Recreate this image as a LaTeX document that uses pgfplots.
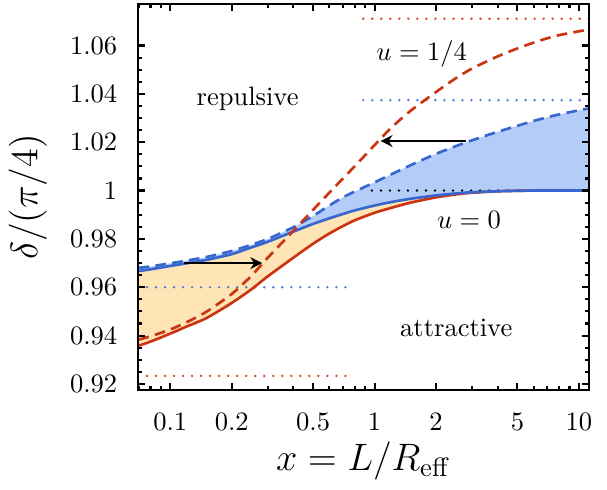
\documentclass[border=0pt]{standalone}
\usepackage{pgfplots}
\pgfplotsset{compat=1.18}
\usepackage{pgfplotstable}
\usepgfplotslibrary{fillbetween}
\usetikzlibrary{arrows.meta}

\definecolor{cblue}{RGB}{56,102,208}
\definecolor{cred}{RGB}{204,51,17}
\definecolor{fblue}{RGB}{179,204,248}
\definecolor{forange}{RGB}{255,228,181}
\definecolor{dblue}{RGB}{74,122,224}
\definecolor{dred}{RGB}{217,68,26}

\pgfplotstableread{
x     bs     bd     rs     rd
0.07  0.9667 0.9680 0.9358 0.9383
0.08  0.9674 0.9686 0.9375 0.9397
0.10  0.9688 0.9699 0.9408 0.9425
0.12  0.9699 0.9710 0.9437 0.9455
0.15  0.9713 0.9725 0.9472 0.9498
0.20  0.9737 0.9750 0.9535 0.9572
0.25  0.9765 0.9776 0.9592 0.9648
0.30  0.9788 0.9800 0.9645 0.9722
0.40  0.9830 0.9848 0.9722 0.9833
0.50  0.9862 0.9895 0.9780 0.9920
0.60  0.9885 0.9938 0.9822 0.9991
0.70  0.9903 0.9972 0.9853 1.0050
0.80  0.9918 0.9996 0.9877 1.0101
1.00  0.9938 1.0034 0.9908 1.0188
1.20  0.9952 1.0066 0.9928 1.0258
1.50  0.9966 1.0105 0.9950 1.0330
2.00  0.9980 1.0152 0.9972 1.0408
2.50  0.9988 1.0184 0.9984 1.0465
3.00  0.9993 1.0208 0.9991 1.0505
4.00  0.9997 1.0243 0.9997 1.0555
5.00  0.9999 1.0268 0.9999 1.0588
6.00  1.0000 1.0288 1.0000 1.0612
7.00  1.0000 1.0303 1.0000 1.0630
8.00  1.0000 1.0315 1.0000 1.0643
10.0  1.0000 1.0332 1.0000 1.0659
11.2  1.0000 1.0340 1.0000 1.0666
}\data

\begin{document}
\begin{tikzpicture}
\begin{axis}[
  name=ax,
  width=170pt, height=145.5pt, scale only axis,
  xmode=log, xmin=0.0695, xmax=11.2, ymin=0.9175, ymax=1.0772,
  xtick={0.1,0.2,0.5,1,2,5,10}, xticklabels={0.1,0.2,0.5,1,2,5,10},
  minor xtick={0.07,0.08,0.09,0.3,0.4,0.6,0.7,0.8,0.9,3,4,6,7,8,9},
  ytick={0.92,0.94,0.96,0.98,1,1.02,1.04,1.06},
  yticklabels={0.92,0.94,0.96,0.98,1,1.02,1.04,1.06},
  minor y tick num=3,
  tick align=inside, tick pos=both,
  major tick length=2.6pt, minor tick length=1.5pt,
  axis line style={line width=1pt},
  every tick/.style={black, line width=0.8pt},
  yticklabel style={xshift=-4.3pt},
  xticklabel style={yshift=-5pt},
  axis on top,
  xlabel={$x = L/R_{\mathrm{eff}}$},
  ylabel={$\delta/(\pi/4)$},
  label style={font=\Large},
  xlabel style={at={(axis description cs:0.5,-0.185)}, anchor=center},
  ylabel style={at={(axis description cs:-0.244,0.5)}, anchor=center, rotate=0},
  dotstyle/.style={line width=1pt, line cap=round, dash pattern=on 0pt off 3.4pt},
  dashstyle/.style={line width=1pt, dash pattern=on 4pt off 2.4pt},
]
% invisible paths for fills
\addplot[draw=none, name path=bs, smooth, tension=0.4] table[x=x,y=bs]{\data};
\addplot[draw=none, name path=bd, smooth, tension=0.4] table[x=x,y=bd]{\data};
\addplot[draw=none, name path=rs, smooth, tension=0.4] table[x=x,y=rs]{\data};
\addplot[forange, draw=none] fill between[of=bs and rs];
\addplot[fblue, draw=none] fill between[of=bd and bs];

% dotted reference lines
\addplot[dred, dotstyle] coordinates {(0.88,1.0711) (11.2,1.0711)};
\addplot[dblue, dotstyle] coordinates {(0.88,1.0374) (11.2,1.0374)};
\addplot[black, dotstyle] coordinates {(0.97,1.0) (11.2,1.0)};
\addplot[dblue, dotstyle] coordinates {(0.0695,0.96) (0.745,0.96)};
\addplot[dred, dotstyle] coordinates {(0.0695,0.9233) (0.745,0.9233)};

% curves
\addplot[cred, line width=1pt, smooth, tension=0.4] table[x=x,y=rs]{\data};
\addplot[cblue, line width=1pt, smooth, tension=0.4] table[x=x,y=bs]{\data};
\addplot[cblue, dashstyle, smooth, tension=0.4] table[x=x,y=bd]{\data};
\addplot[cred, dashstyle, smooth, tension=0.4] table[x=x,y=rd]{\data};

% arrows
\addplot[black, line width=0.8pt, -{Stealth[length=4.5pt,width=4.5pt]}] coordinates {(2.8,1.0205) (1.07,1.0205)};
\addplot[black, line width=0.8pt, -{Stealth[length=4.5pt,width=4.5pt]}] coordinates {(0.117,0.970) (0.282,0.970)};

% labels
\node at (axis cs:0.239,1.038) {repulsive};
\node at (axis cs:2.51,0.9433) {attractive};
\node at (axis cs:1.70,1.0567) {$u = 1/4$};
\node at (axis cs:2.90,0.988) {$u = 0$};
\end{axis}
\path (ax.north east) ++(6.8pt,1.5pt);
\path (ax.south west) ++(0pt,-37pt);
\end{tikzpicture}
\end{document}
